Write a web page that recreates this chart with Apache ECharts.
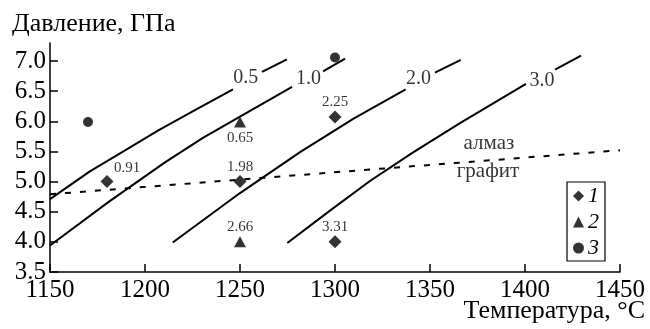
<!DOCTYPE html>
<html><head><meta charset="utf-8">
<script src="https://cdn.jsdelivr.net/npm/echarts@6/dist/echarts.min.js"></script>
<style>html,body{margin:0;padding:0;background:#fff}#c{width:650px;height:329px}</style>
</head><body><div id="c"></div>
<script>
// ---- data ----
const xTicks = [1150, 1200, 1250, 1300, 1350, 1400, 1450];
const yTicks = [3.5, 4.0, 4.5, 5.0, 5.5, 6.0, 6.5, 7.0];

// isolines (null = gap where the curve label sits)
const curve05 = [[1150, 4.71], [1171, 5.17], [1189.5, 5.52], [1207, 5.85], [1227, 6.20], [1246.3, 6.53], null, [1261.6, 6.82], [1274.7, 7.03]];
const curve10 = [[1150, 3.94], [1180.7, 4.66], [1210.5, 5.32], [1230.7, 5.73], [1250, 6.08], [1277.4, 6.57], null, [1293.7, 6.83], [1305.3, 7.04]];
const curve20 = [[1214.6, 3.99], [1250, 4.81], [1281.6, 5.49], [1310, 6.05], [1337.2, 6.53], null, [1352.6, 6.81], [1366.2, 7.02]];
const curve30 = [[1274.9, 3.98], [1297, 4.51], [1318.4, 5.01], [1340.9, 5.48], [1365.8, 5.97], [1400.5, 6.62], null, [1415.8, 6.86], [1429.5, 7.09]];
const curveLabels = ['0.5', '1.0', '2.0', '3.0'];
const curveLabelPos = [[1253, 6.72], [1286, 6.71], [1344, 6.70], [1409, 6.67]];

// graphite / diamond boundary
const boundary = [[1150, 4.79], [1450, 5.52]];
const phaseLabels = ['алмаз', 'графит'];
const phaseLabelPos = [[1381, 5.63], [1380.5, 5.17]];

// experimental points
const series1 = [[1180, 5.0], [1250, 5.0], [1300, 6.07], [1300, 4.0]];
const series1Labels = ['0.91', '1.98', '2.25', '3.31'];
const series2 = [[1250, 5.99], [1250, 4.0]];
const series2Labels = ['0.65', '2.66'];
const series3 = [[1170, 5.99], [1300, 7.06]];
const legendNames = ['1', '2', '3'];

// ---- chart ----
const FONT = 'Liberation Serif';
const chart = echarts.init(document.getElementById('c'), null, {renderer: 'canvas'});

function splitSegments(pts) {
  const segs = [[]];
  pts.forEach(p => { if (p === null) segs.push([]); else segs[segs.length - 1].push(p); });
  return segs;
}

const labelOffsets = {'0.91': [20, -14], '0.65': [0, 16.5]};
function pointData(vals, labels) {
  return vals.map((v, i) => ({
    value: v,
    name: labels ? labels[i] : '',
    label: {offset: labelOffsets[labels ? labels[i] : ''] || [0, -15]}
  }));
}

const series = [];
[curve05, curve10, curve20, curve30].forEach(c => {
  splitSegments(c).forEach(seg => series.push({
    type: 'line', data: seg, smooth: false, symbol: 'none', silent: true,
    lineStyle: {color: '#000', width: 2, join: 'round'}, z: 2
  }));
});
series.push({
  type: 'line', data: boundary, symbol: 'none', silent: true,
  lineStyle: {color: '#000', width: 2, type: [6, 9]}, z: 2
});
series.push({
  type: 'scatter', silent: true, symbolSize: 1, itemStyle: {color: 'rgba(0,0,0,0)'},
  data: curveLabelPos.map((p, i) => ({value: p, name: curveLabels[i]})),
  label: {show: true, position: 'inside', formatter: '{b}', color: '#000', fontFamily: FONT, fontSize: 20}
});
series.push({
  type: 'scatter', silent: true, symbolSize: 1, itemStyle: {color: 'rgba(0,0,0,0)'},
  data: phaseLabelPos.map((p, i) => ({value: p, name: phaseLabels[i]})),
  label: {show: true, position: 'inside', formatter: '{b}', color: '#000', fontFamily: FONT, fontSize: 21}
});
const ptLabel = {show: true, position: 'inside', formatter: '{b}', color: '#000', fontFamily: FONT, fontSize: 15};
series.push({name: legendNames[0], type: 'scatter', symbol: 'diamond', symbolSize: 13, itemStyle: {color: '#000'},
  data: pointData(series1, series1Labels), label: ptLabel, z: 5});
series.push({name: legendNames[1], type: 'scatter', symbol: 'triangle', symbolSize: [12, 11], itemStyle: {color: '#000'},
  data: pointData(series2, series2Labels), label: ptLabel, z: 5});
series.push({name: legendNames[2], type: 'scatter', symbol: 'circle', symbolSize: 10, itemStyle: {color: '#000'},
  data: pointData(series3, null), z: 5});

const option = {
  backgroundColor: '#fff',
  animation: false,
  grid: {left: 50, right: 30, top: 43, bottom: 57, containLabel: false},
  xAxis: {
    type: 'value', min: xTicks[0], max: xTicks[xTicks.length - 1], interval: 50,
    axisLine: {lineStyle: {color: '#000', width: 1.5}},
    axisTick: {inside: true, length: 8, lineStyle: {color: '#000', width: 1.5}},
    axisLabel: {color: '#000', fontFamily: FONT, fontSize: 25, margin: 6, showMinLabel: true, showMaxLabel: true,
      formatter: v => String(v)},
    splitLine: {show: false}
  },
  yAxis: {
    type: 'value', min: 3.5, max: 7.3, interval: 0.5,
    axisLine: {show: true, lineStyle: {color: '#000', width: 1.5}},
    axisTick: {show: true, inside: true, length: 8, lineStyle: {color: '#000', width: 1.5}, customValues: yTicks},
    axisLabel: {color: '#000', fontFamily: FONT, fontSize: 25, margin: 4, customValues: yTicks,
      formatter: v => v.toFixed(1)},
    splitLine: {show: false}
  },
  legend: {
    data: legendNames, orient: 'vertical', left: 567, top: 182,
    itemWidth: 11, itemHeight: 11, itemGap: 4,
    padding: [3, 6, 2, 6], borderColor: '#000', borderWidth: 1.2,
    textStyle: {fontFamily: FONT, fontSize: 22, fontStyle: 'italic', color: '#000', padding: [0, 0, 0, -1]},
    selectedMode: false
  },
  graphic: [
    {type: 'text', x: 12, y: 24, style: {text: 'Давление, ГПа', font: '26px "Liberation Serif"', fill: '#000', verticalAlign: 'middle', align: 'left'}},
    {type: 'text', x: 645, y: 311, style: {text: 'Температура, °C', font: '26px "Liberation Serif"', fill: '#000', verticalAlign: 'middle', align: 'right'}}
  ],
  series: series
};
chart.setOption(option);
</script>
</body></html>
